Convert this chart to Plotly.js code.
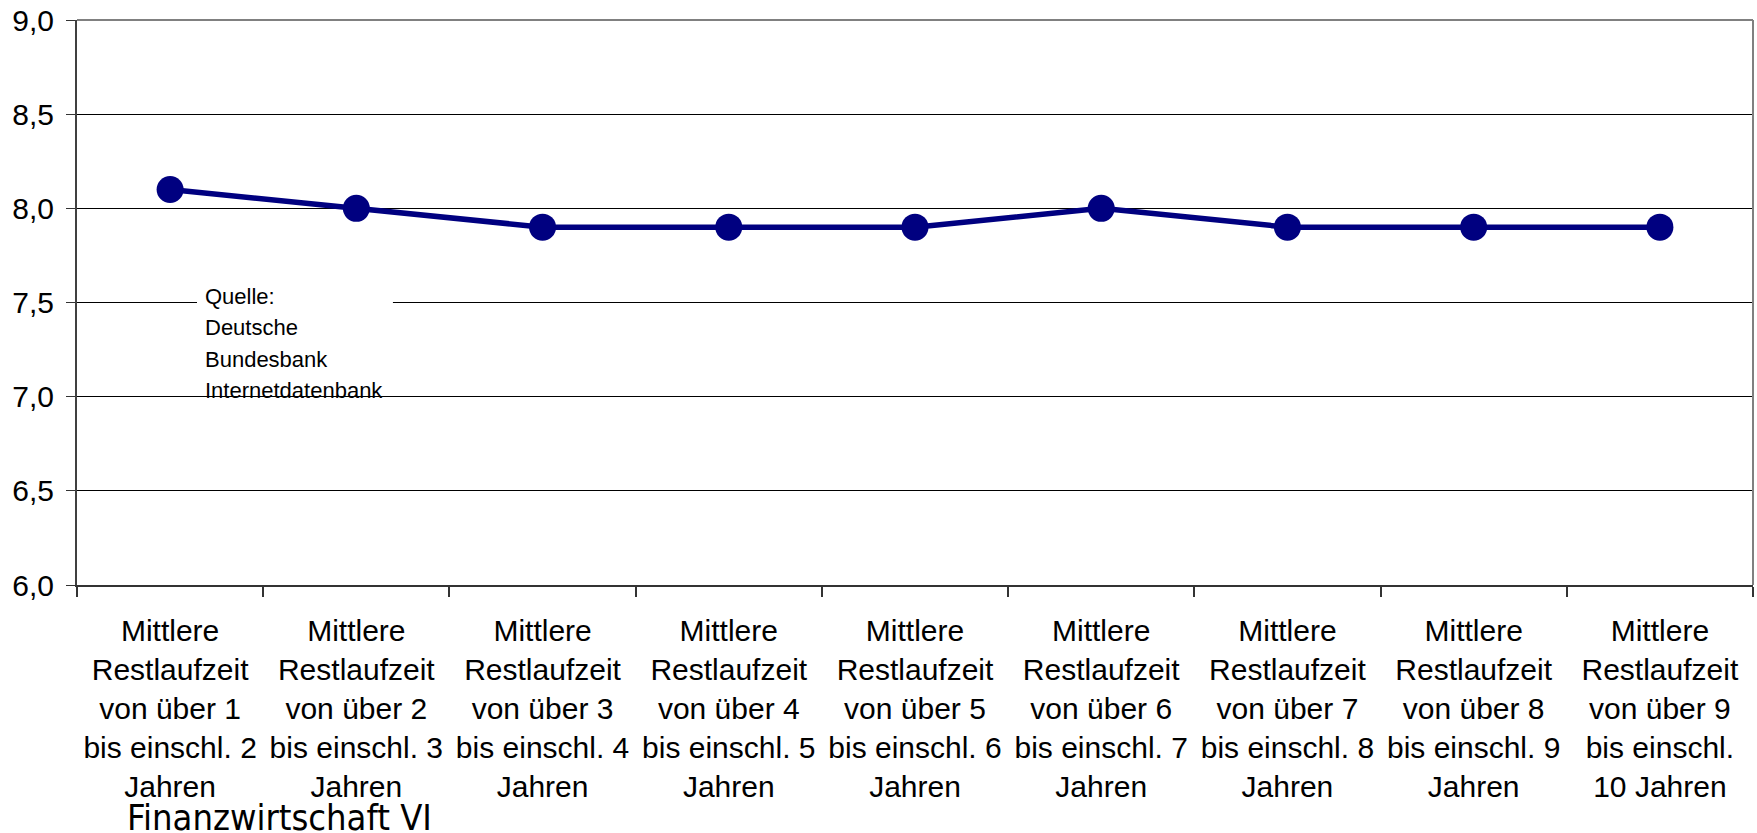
<!DOCTYPE html>
<html>
<head>
<meta charset="utf-8">
<script src="https://cdn.plot.ly/plotly-3.0.1.min.js"></script>
<style>html,body{margin:0;padding:0;background:#fff;}#chart{width:1757px;height:833px;}</style>
</head>
<body>
<div id="chart"></div>
<script>
const categories = [
  "Mittlere<br>Restlaufzeit<br>von über 1<br>bis einschl. 2<br>Jahren",
  "Mittlere<br>Restlaufzeit<br>von über 2<br>bis einschl. 3<br>Jahren",
  "Mittlere<br>Restlaufzeit<br>von über 3<br>bis einschl. 4<br>Jahren",
  "Mittlere<br>Restlaufzeit<br>von über 4<br>bis einschl. 5<br>Jahren",
  "Mittlere<br>Restlaufzeit<br>von über 5<br>bis einschl. 6<br>Jahren",
  "Mittlere<br>Restlaufzeit<br>von über 6<br>bis einschl. 7<br>Jahren",
  "Mittlere<br>Restlaufzeit<br>von über 7<br>bis einschl. 8<br>Jahren",
  "Mittlere<br>Restlaufzeit<br>von über 8<br>bis einschl. 9<br>Jahren",
  "Mittlere<br>Restlaufzeit<br>von über 9<br>bis einschl.<br>10 Jahren"
];
const rendite = [8.1, 8.0, 7.9, 7.9, 7.9, 8.0, 7.9, 7.9, 7.9];
const yTicks = [6.0, 6.5, 7.0, 7.5, 8.0, 8.5, 9.0];
const quelleLines = ["Quelle:", "Deutsche", "Bundesbank", "Internetdatenbank"];
const footerText = "Finanzwirtschaft VI";

const trace = {
  type: "scatter",
  mode: "lines+markers",
  x: categories,
  y: rendite,
  line: {color: "#000080", width: 5.5},
  marker: {color: "#000080", size: 27},
  hoverinfo: "x+y",
  showlegend: false
};

const annotations = quelleLines.map((t, i) => ({
  xref: "paper", yref: "paper",
  x: 0.0752, y: 0.5115 - i * 0.0558,
  xanchor: "left", yanchor: "middle",
  text: t, showarrow: false, align: "left",
  font: {family: "Liberation Sans, Arial, sans-serif", size: 22, color: "#000"}
}));
annotations.push({
  xref: "paper", yref: "paper",
  x: (125 - 77) / 1676, y: -0.411,
  xanchor: "left", yanchor: "middle",
  text: footerText, showarrow: false,
  font: {family: "DejaVu Sans Condensed, DejaVu Sans, sans-serif", size: 36, color: "#000"}
});

const layout = {
  width: 1757, height: 833,
  margin: {l: 77, r: 4, t: 20, b: 248},
  paper_bgcolor: "#fff", plot_bgcolor: "#fff",
  separators: ",.",
  font: {family: "Liberation Sans, Arial, sans-serif", color: "#000"},
  xaxis: {
    type: "category",
    tickson: "boundaries",
    tickangle: 0,
    ticks: "outside", ticklen: 10, tickcolor: "#333", tickwidth: 2,
    showgrid: false,
    showline: true, linecolor: "#333", linewidth: 2,
    tickfont: {family: "Liberation Sans, Arial, sans-serif", size: 30, color: "#000"},
    ticklabelstandoff: 18,
    range: [-0.5, 8.5],
    fixedrange: true
  },
  yaxis: {
    range: [6, 9],
    tickvals: yTicks,
    tickformat: ".1f",
    ticks: "outside", ticklen: 9, tickcolor: "#333", tickwidth: 1,
    showgrid: true, gridcolor: "#000", gridwidth: 1,
    showline: true, linecolor: "#404040", linewidth: 2,
    zeroline: false,
    tickfont: {family: "Liberation Sans, Arial, sans-serif", size: 30, color: "#000"},
    ticklabelstandoff: 6,
    fixedrange: true
  },
  shapes: [
    {type: "rect", xref: "paper", yref: "paper", x0: 0.0716, x1: 0.1885, y0: 0.355, y1: 0.545,
     fillcolor: "#fff", line: {width: 0}, layer: "above"},
    {type: "line", xref: "paper", yref: "paper", x0: 0, x1: 1, y0: 1, y1: 1,
     line: {color: "#808080", width: 2}, layer: "above"},
    {type: "line", xref: "paper", yref: "paper", x0: 1, x1: 1, y0: 0, y1: 1,
     line: {color: "#808080", width: 2}, layer: "above"}
  ],
  annotations: annotations
};

Plotly.newPlot("chart", [trace], layout, {displayModeBar: false, staticPlot: true});
</script>
</body>
</html>
